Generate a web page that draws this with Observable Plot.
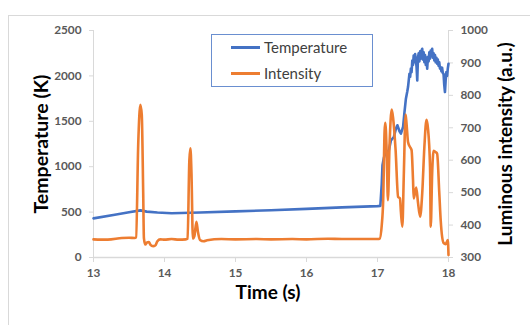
<!DOCTYPE html>
<html>
<head>
<meta charset="utf-8">
<script src="https://cdn.jsdelivr.net/npm/d3@7"></script>
<script src="https://cdn.jsdelivr.net/npm/@observablehq/plot@0.6"></script>
<style>
  html, body { margin: 0; padding: 0; background: #fff; }
  #wrap { position: relative; width: 530px; height: 325px; overflow: hidden; font-family: Lato, "Open Sans", sans-serif; }
  #frame { position: absolute; left: 8px; top: 15px; width: 600px; height: 400px; border-top: 1px solid #d9d9d9; border-left: 1px solid #d9d9d9; pointer-events: none; z-index: 2; }
  #legend { position: absolute; left: 211px; top: 34px; width: 160px; height: 51px; border: 1px solid #6a8fd0; background: #fff; z-index: 3; }
  .item { position: absolute; left: 0; height: 20px; font-size: 15px; color: #404040; line-height: 20px; }
  .item span.sw { position: absolute; left: 19px; top: 9px; width: 29px; height: 2.5px; }
  .item span.lb { position: absolute; left: 52px; top: 0; white-space: nowrap; }
</style>
</head>
<body>
<div id="wrap">
  <div id="frame"></div>
  <div id="legend">
    <div class="item" style="top:2px"><span class="sw" style="background:#4472C4"></span><span class="lb">Temperature</span></div>
    <div class="item" style="top:28px"><span class="sw" style="background:#ED7D31"></span><span class="lb">Intensity</span></div>
  </div>
</div>
<script>
// ---- data ----
const timeTicks = [13, 14, 15, 16, 17, 18];
const tempTicks = [0, 500, 1000, 1500, 2000, 2500];
const intensityTicks = [300, 400, 500, 600, 700, 800, 900, 1000];

const tempTime = [13.0, 13.3, 13.5, 13.66, 13.75, 13.9, 14.1, 14.5, 15.0, 15.5, 16.0, 16.5, 17.0, 17.04,
  17.06, 17.07, 17.09, 17.11, 17.16, 17.19, 17.23, 17.26, 17.28, 17.31, 17.33, 17.36, 17.38, 17.40, 17.42, 17.43,
  17.45, 17.46, 17.47, 17.48, 17.49, 17.50, 17.51, 17.52, 17.53, 17.54, 17.55, 17.56, 17.57, 17.58, 17.59, 17.60,
  17.61, 17.62, 17.63, 17.64, 17.65, 17.66, 17.67, 17.68, 17.69, 17.70, 17.71, 17.72, 17.73, 17.74, 17.75, 17.76,
  17.77, 17.78, 17.79, 17.80, 17.81, 17.82, 17.83, 17.84, 17.85, 17.86, 17.87, 17.88, 17.89, 17.90, 17.91, 17.92,
  17.93, 17.94, 17.95, 17.96, 17.97, 17.98, 17.99, 18.0];
const tempValues = [431, 470, 498, 519, 505, 495, 488, 495, 508, 521, 536, 552, 566, 568,
  815, 1016, 1100, 1145, 1181, 1291, 1327, 1420, 1456, 1390, 1365, 1437, 1602, 1749, 1830, 1877,
  2024, 1990, 2080, 2040, 2170, 2120, 2225, 2150, 2240, 2180, 2100, 1951, 2200, 2250, 2160, 2270,
  2190, 2280, 2299, 2180, 2260, 2150, 2230, 2120, 2200, 2079, 2210, 2160, 2260, 2190, 2280, 2230,
  2299, 2200, 2250, 2170, 2230, 2150, 2200, 2134, 2180, 2110, 2150, 2080, 2097, 2050, 2090, 2030,
  2024, 1900, 1822, 1950, 2042, 2000, 2080, 2134];

const intTime = [13.0, 13.2, 13.4, 13.5, 13.58, 13.60, 13.63, 13.66, 13.68, 13.70, 13.71, 13.73, 13.75, 13.78,
  13.80, 13.84, 13.87, 13.90, 13.94, 14.0, 14.1, 14.2, 14.3, 14.325, 14.35, 14.365, 14.38, 14.40, 14.42, 14.45,
  14.47, 14.50, 14.55, 14.6, 14.8, 15.0, 15.3, 15.5, 15.8, 16.0, 16.3, 16.5, 16.8, 17.0, 17.03, 17.06, 17.08,
  17.10, 17.11, 17.13, 17.147, 17.17, 17.20, 17.22, 17.255, 17.29, 17.316, 17.33, 17.35, 17.37, 17.396, 17.41,
  17.43, 17.46, 17.48, 17.50, 17.51, 17.545, 17.57, 17.60, 17.63, 17.66, 17.69, 17.71, 17.74, 17.75, 17.77,
  17.79, 17.82, 17.84, 17.87, 17.89, 17.93, 17.96, 17.99, 18.0];
const intValues = [356, 355, 360, 361, 360, 362, 650, 771, 740, 500, 360, 340, 346, 348,
  340, 335, 337, 350, 356, 355, 357, 355, 356, 358, 600, 637, 560, 358, 365, 410,
  380, 354, 350, 353, 357, 356, 357, 356, 357, 356, 358, 357, 357, 357, 358, 400, 477,
  690, 715, 620, 477, 650, 756, 730, 631, 487, 482, 440, 395, 550, 741, 710,
  656, 640, 631, 540, 482, 516, 470, 426, 498, 640, 725, 700, 579, 395, 560,
  629, 625, 620, 500, 415, 345, 341, 354, 308];

// ---- mapping of right axis onto left scale ----
const iMin = 300, iMax = 1000, tMax = 2500;
const toT = i => (i - iMin) * tMax / (iMax - iMin);

const tempData = tempTime.map((t, k) => ({t, v: tempValues[k]}));
const intData = intTime.map((t, k) => ({t, v: toT(intValues[k])}));

const tickStyle = {stroke: "#d9d9d9", fill: "#595959", fontWeight: "bold", fontSize: 11.8, label: null};

const chart = Plot.plot({
  width: 530, height: 325,
  marginLeft: 93, marginRight: 82, marginTop: 30, marginBottom: 68,
  x: {domain: [13, 18]},
  y: {domain: [0, 2500]},
  style: {fontFamily: "Lato, 'Open Sans', sans-serif", background: "transparent", overflow: "visible"},
  marks: [
    Plot.ruleX([13, 18], {stroke: "#d9d9d9", strokeWidth: 1}),
    Plot.ruleY([0], {stroke: "#d9d9d9", strokeWidth: 1.5}),
    Plot.axisX({ticks: timeTicks, tickFormat: d => String(d), tickSize: 5, tickPadding: 6, ...tickStyle}),
    Plot.axisY({ticks: tempTicks, tickFormat: d => String(d), tickSize: 4, tickPadding: 8, ...tickStyle}),
    Plot.axisY({anchor: "right", ticks: intensityTicks.map(toT), tickFormat: d => String(Math.round(d * (iMax - iMin) / tMax + iMin)), tickSize: 4, tickPadding: 8, ...tickStyle}),
    Plot.line(tempData, {x: "t", y: "v", stroke: "#4472C4", strokeWidth: 2.6, curve: "linear"}),
    Plot.line(intData, {x: "t", y: "v", stroke: "#ED7D31", strokeWidth: 2.6, curve: "monotone-x"}),
    Plot.text(["Temperature (K)"], {frameAnchor: "left", textAnchor: "middle", dx: -52, rotate: -90, fontSize: 19.5, fontWeight: "bold", fill: "#000"}),
    Plot.text(["Luminous intensity (a.u.)"], {frameAnchor: "right", textAnchor: "middle", dx: 57, rotate: -90, fontSize: 19, fontWeight: "bold", fill: "#000"}),
    Plot.text(["Time (s)"], {frameAnchor: "bottom", dy: 41, dx: -3, fontSize: 19, fontWeight: "bold", fill: "#000"})
  ]
});
chart.style.position = "absolute";
chart.style.left = "0px";
chart.style.top = "0px";
document.getElementById("wrap").appendChild(chart);
</script>
</body>
</html>
